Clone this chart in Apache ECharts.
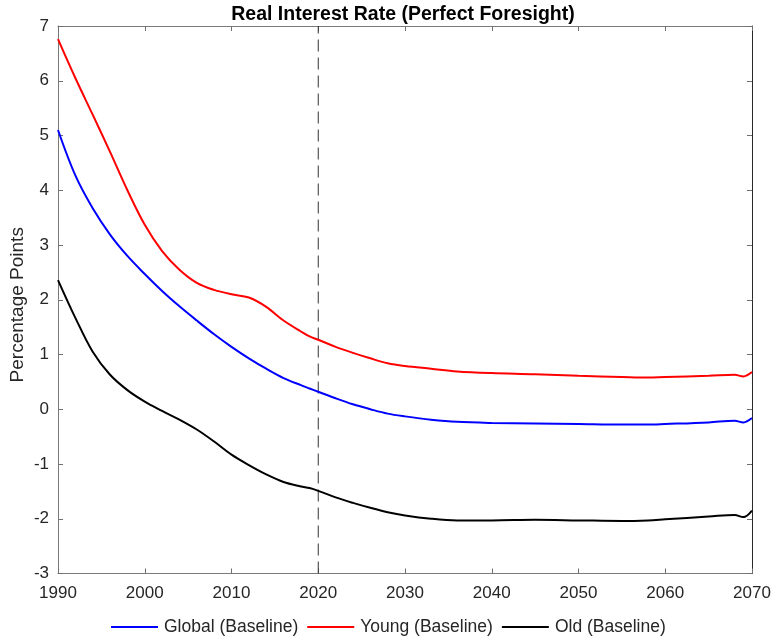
<!DOCTYPE html>
<html>
<head>
<meta charset="utf-8">
<script src="https://cdn.jsdelivr.net/npm/echarts@6/dist/echarts.min.js"></script>
<style>
  html, body { margin: 0; padding: 0; background: #fff; }
  #chart { width: 772px; height: 641px; }
</style>
</head>
<body>
<div id="chart"></div>
<script>
// Simulation years (shared x values for all three series)
const years = [1990, 1992, 1994, 1996, 1998, 2000, 2002, 2004, 2006, 2008, 2010,
  2012, 2014, 2016, 2018, 2019, 2020, 2022, 2024, 2026, 2028, 2030, 2033, 2036,
  2040, 2045, 2050, 2055, 2058, 2060, 2065, 2068, 2069, 2070];

// Real interest rate, percentage points
const globalRate = [5.10, 4.27, 3.67, 3.19, 2.80, 2.47, 2.16, 1.88, 1.62, 1.37, 1.14,
  0.93, 0.74, 0.57, 0.44, 0.38, 0.32, 0.20, 0.09, 0.00, -0.08, -0.13, -0.19, -0.23,
  -0.25, -0.26, -0.27, -0.28, -0.28, -0.27, -0.24, -0.21, -0.24, -0.16];
const youngRate = [6.76, 6.05, 5.38, 4.70, 4.00, 3.37, 2.89, 2.55, 2.31, 2.18, 2.10,
  2.04, 1.87, 1.62, 1.42, 1.33, 1.27, 1.14, 1.03, 0.93, 0.84, 0.79, 0.74, 0.69,
  0.66, 0.64, 0.61, 0.59, 0.58, 0.59, 0.61, 0.63, 0.60, 0.68];
const oldRate = [2.36, 1.67, 1.05, 0.63, 0.35, 0.14, -0.03, -0.19, -0.37, -0.59, -0.83,
  -1.02, -1.19, -1.33, -1.41, -1.44, -1.49, -1.61, -1.71, -1.80, -1.88, -1.94, -2.00, -2.03,
  -2.03, -2.02, -2.03, -2.04, -2.03, -2.01, -1.96, -1.93, -1.97, -1.85];

// Vertical marker year and axis settings
const markerYear = 2020;
const xTicks = { min: 1990, max: 2070, step: 10 };
const yTicks = { min: -3, max: 7, step: 1 };

const seriesNames = ['Global (Baseline)', 'Young (Baseline)', 'Old (Baseline)'];
const seriesColors = ['#0000ff', '#ff0000', '#000000'];
const seriesValues = [globalRate, youngRate, oldRate];

const FONT = '"Liberation Sans", Arial, Helvetica, sans-serif';
const TEXT = '#262626';

const chart = echarts.init(document.getElementById('chart'), null, { renderer: 'canvas' });

const pairs = vals => years.map((y, i) => [y, vals[i]]);

const lineSeries = seriesNames.map((name, k) => ({
  name: name,
  type: 'line',
  data: pairs(seriesValues[k]),
  symbol: 'none',
  smooth: 0.35,
  lineStyle: { color: seriesColors[k], width: 2 },
  itemStyle: { color: seriesColors[k] },
  z: 3 + k
}));

const baseAxisX = {
  type: 'value', min: xTicks.min, max: xTicks.max, interval: xTicks.step,
  splitLine: { show: false },
  axisTick: { inside: true, length: 5, lineStyle: { color: '#6f6f6f', width: 1 } }
};
const baseAxisY = {
  type: 'value', min: yTicks.min, max: yTicks.max, interval: yTicks.step,
  splitLine: { show: false },
  axisTick: { inside: true, length: 5, lineStyle: { color: '#6f6f6f', width: 1 } }
};

chart.setOption({
  animation: false,
  backgroundColor: '#ffffff',
  title: {
    text: 'Real Interest Rate (Perfect Foresight)',
    left: 403, top: 5, textAlign: 'center', padding: 0,
    textStyle: { fontFamily: FONT, fontSize: 19.5, fontWeight: 'bold', color: '#000' }
  },
  legend: {
    data: seriesNames,
    left: 111, top: 618, padding: 0,
    itemWidth: 47, itemHeight: 10, itemGap: 9,
    icon: 'path://M0,4 L47,4 L47,6 L0,6 Z',
    textStyle: { fontFamily: FONT, fontSize: 17.5, color: TEXT, padding: [0, 0, 0, 1] }
  },
  grid: { left: 58, right: 20, top: 26, bottom: 67.5, containLabel: false, outerBoundsMode: 'none' },
  xAxis: [
    Object.assign({}, baseAxisX, {
      position: 'bottom',
      axisLine: { show: true, onZero: false, lineStyle: { color: '#7a7a7a', width: 1 } },
      axisLabel: { show: true, margin: 11, color: TEXT, fontFamily: FONT, fontSize: 17,
        formatter: v => String(v) }
    }),
    Object.assign({}, baseAxisX, {
      position: 'top',
      axisLine: { show: true, onZero: false, lineStyle: { color: '#7a7a7a', width: 1 } },
      axisLabel: { show: false }
    })
  ],
  yAxis: [
    Object.assign({}, baseAxisY, {
      position: 'left',
      name: 'Percentage Points', nameLocation: 'middle', nameGap: 31, nameRotate: 90,
      nameMoveOverlap: false,
      nameTextStyle: { fontFamily: FONT, fontSize: 19, color: TEXT, padding: [0, 10, 0, 0] },
      axisLine: { show: true, onZero: false, lineStyle: { color: '#7a7a7a', width: 1 } },
      axisLabel: { show: true, margin: 9, color: TEXT, fontFamily: FONT, fontSize: 17,
        formatter: v => String(v) }
    }),
    Object.assign({}, baseAxisY, {
      position: 'right',
      axisLine: { show: true, onZero: false, lineStyle: { color: '#2a2a2a', width: 1 } },
      axisLabel: { show: false }
    })
  ],
  series: lineSeries.concat([{
    name: 'marker',
    type: 'line',
    data: [[markerYear, yTicks.min], [markerYear, yTicks.max]],
    symbol: 'none',
    silent: true,
    lineStyle: { color: '#333333', width: 1, type: [12, 6] },
    z: 1
  }])
});
</script>
</body>
</html>
